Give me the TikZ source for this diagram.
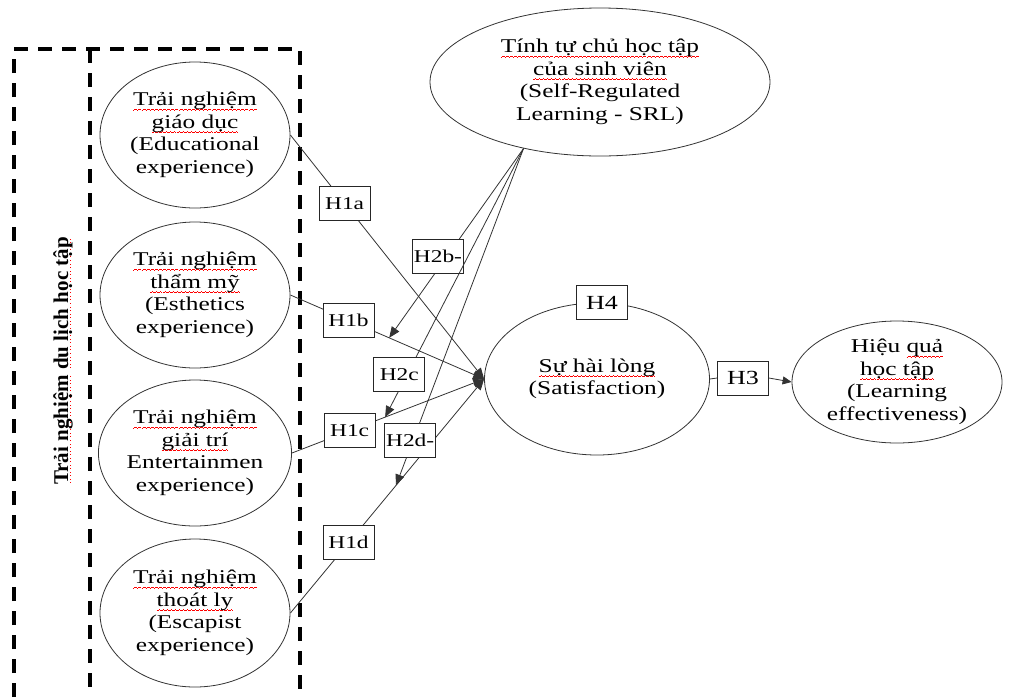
\documentclass[tikz,border=0pt]{standalone}
\usepackage{fontspec}
\setmainfont{Liberation Serif}[FakeStretch=1.3]
\newfontfamily\grpfont{Liberation Serif}
\usetikzlibrary{calc,arrows.meta,shapes.geometric}

% red spell-check marks under Vietnamese words, built from small rules
\newcommand\wavepiece{\hbox{%
  \rule[-4.6pt]{1pt}{0.8pt}\rule[-4.0pt]{1pt}{0.8pt}%
  \rule[-3.4pt]{1pt}{0.8pt}\rule[-4.0pt]{1pt}{0.8pt}}}
\newcommand\vnw[1]{\setbox0\hbox{#1}%
  \rlap{\textcolor{red}{\hbox to \wd0{\xleaders\wavepiece\hfill}}}\box0\relax}
\newcommand\vnd[1]{\setbox0\hbox{#1}%
  \rlap{\textcolor{red}{\hbox to \wd0{\xleaders\hbox to 3.5pt{\hss\rule[-3pt]{1pt}{1pt}\hss}\hfill}}}\box0\relax}

\tikzset{
  construct/.style={draw=black!80, line width=0.8pt, ellipse, inner sep=0pt,
    align=center, font=\fontsize{19.5}{22.5}\selectfont},
  hyp/.style={draw=black!85, line width=0.8pt, fill=white, inner sep=1pt,
    minimum width=51pt, minimum height=34pt, font=\fontsize{18}{20}\selectfont},
  link/.style={draw=black!80, line width=0.8pt,
    -{Triangle[length=11pt,width=9pt]}},
  plainlink/.style={draw=black!80, line width=0.8pt},
  groupline/.style={line width=3.8pt, dash pattern=on 14pt off 10pt}
}

\begin{document}
\begin{tikzpicture}[x=1pt,y=-1pt]
\useasboundingbox (0,0) rectangle (1025,697);

% dashed frame of the experience group
\draw[groupline] (14,697) -- (14,49) -- (300,49) -- (300,697);
\draw[groupline] (90,49) -- (90,697);
\node[rotate=90, font=\grpfont\bfseries\fontsize{21}{24}\selectfont] (grp) at (63,361)
  {\vnd{Trải nghiệm} \vnd{du lịch học tập}};

% experience constructs
\node[construct, minimum width=190pt, minimum height=146pt] (edu) at (195,135)
  {\vnw{Trải nghiệm}\\\vnw{giáo dục}\\(Educational\\experience)};
\node[construct, minimum width=190pt, minimum height=146pt] (est) at (195,295)
  {\vnw{Trải nghiệm}\\\vnw{thẩm mỹ}\\(Esthetics\\experience)};
\node[construct, minimum width=190pt, minimum height=146pt] (ent) at (195,453)
  {\vnw{Trải nghiệm}\\\vnw{giải trí}\\Entertainmen\\experience)};
\node[construct, minimum width=190pt, minimum height=148pt] (esc) at (195,613)
  {\vnw{Trải nghiệm}\\\vnw{thoát ly}\\(Escapist\\experience)};

% self-regulated learning, satisfaction, effectiveness
\node[construct, minimum width=340pt, minimum height=148pt] (srl) at (600,82)
  {\vnw{Tính tự chủ học tập}\\\vnw{của sinh viên}\\(Self-Regulated\\Learning - SRL)};
\node[construct, minimum width=225pt, minimum height=152pt] (sat) at (597,379)
  {\vnw{Sự hài lòng}\\(Satisfaction)};
\node[construct, minimum width=210pt, minimum height=122pt] (eff) at (897,382)
  {Hiệu \vnw{quả}\\\vnw{học tập}\\(Learning\\effectiveness)};

% direct effects on satisfaction
\draw[link] (edu.east) -- (sat.west) node[hyp, pos=0.28] (h1a) {H1a};
\draw[link] (est.east) -- (sat.west) node[hyp, pos=0.3] (h1b) {H1b}
  coordinate[pos=0.51] (tb);
\draw[link] (ent.east) -- (sat.west) node[hyp, pos=0.3] (h1c) {H1c}
  coordinate[pos=0.485] (tc);
\draw[link] (esc.east) -- (sat.west) node[hyp, pos=0.3] (h1d) {H1d}
  coordinate[pos=0.545] (td);

% moderating effects of SRL
\draw[link] (srl.221) -- (tb) node[hyp, pos=0.57, xshift=-9pt] (h2b) {H2b-};
\draw[link] (srl.221) -- (tc) node[hyp, pos=0.84, xshift=-8pt] (h2c) {H2c};
\draw[link] (srl.221) -- (td) node[hyp, pos=0.865, xshift=-3pt] (h2d) {H2d-};

% satisfaction to learning effectiveness
\node[hyp, font=\fontsize{20}{22}\selectfont] (h4) at ($(sat.north)+(5,0)$) {H4};
\node[hyp, font=\fontsize{20}{22}\selectfont] (h3) at (743,378) {H3};
\draw[plainlink] (sat.east) -- (h3.west);
\draw[plainlink, -{Triangle[length=9pt,width=8pt]}] (h3.east) -- (eff.west);
\end{tikzpicture}
\end{document}
